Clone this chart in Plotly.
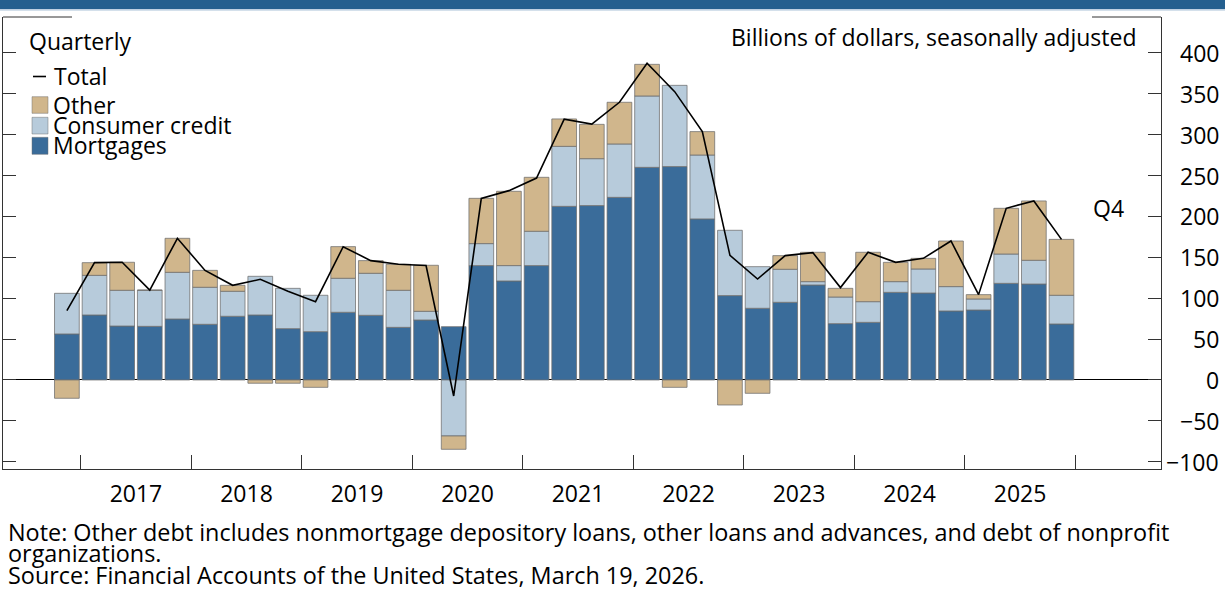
import plotly.graph_objects as go

# ---------------- data ----------------
years = [2016] + [y for y in range(2017, 2026) for _ in range(4)]
quarters = [4] + [q for _ in range(2017, 2026) for q in (1, 2, 3, 4)]

mortgages = [56.3, 79.5, 66.0, 65.6, 74.6, 68.1, 77.9, 79.5, 62.8, 59.1, 82.8, 79.1, 64.4,
             73.4, 65.2, 139.9, 121.1, 139.9, 212.4, 213.3, 223.4, 260.1, 261.0, 197.0,
             103.2, 87.7, 95.0, 116.2, 68.9, 70.5, 107.2, 106.4, 84.4, 85.6, 118.2, 117.4, 68.5]
consumer_credit = [49.7, 48.5, 43.7, 44.1, 57.1, 45.3, 30.6, 47.3, 49.3, 44.5, 41.6, 51.4, 45.3,
                   10.6, -68.5, 26.9, 18.8, 42.0, 73.4, 57.4, 65.3, 87.3, 99.4, 78.2,
                   79.9, 50.9, 40.4, 4.1, 32.6, 25.3, 13.1, 29.4, 29.8, 13.5, 35.9, 29.0, 35.1]
other = [-22.4, 15.5, 34.3, 0.3, 41.6, 20.7, 7.3, -4.0, -4.0, -9.0, 38.7, 15.5, 31.8,
         56.3, -16.3, 55.4, 90.9, 66.0, 33.5, 42.0, 51.0, 38.7, -9.0, 28.6,
         -30.6, -16.3, 16.7, 35.9, 10.6, 60.4, 23.6, 13.0, 55.8, 5.3, 55.9, 72.6, 68.4]
total = [84.8, 143.5, 144.0, 110.0, 173.3, 134.0, 115.8, 123.1, 108.5, 95.8, 163.0, 146.0, 141.5,
         140.0, -19.6, 222.0, 231.6, 247.0, 319.0, 313.0, 339.7, 387.4, 352.7, 303.8,
         152.5, 123.5, 152.1, 155.8, 113.0, 156.2, 143.9, 148.8, 170.0, 104.4, 210.0, 219.0, 172.0]

year_labels = [str(y) for y in range(2017, 2026)]
y_ticks = [-100, -50, 0, 50, 100, 150, 200, 250, 300, 350, 400]

series_names = ["Mortgages", "Consumer credit", "Other"]
series_colors = ["#3a6c9a", "#b7cbdb", "#d0b68c"]

# ---------------- figure ----------------
x = [y + (q - 0.5) / 4 for y, q in zip(years, quarters)]

FONT = "Open Sans"
FS = 23
W, H = 1225, 595
L, R, T, B = 3, 3, 17, 126
PW, PH = W - L - R, H - T - B
YR = [-108.9, 444.0]


def px_x(p):
    return (p - L) / PW


def px_y(p):
    return (H - B - p) / PH


fig = go.Figure()
for name, vals, col in zip(series_names, [mortgages, consumer_credit, other], series_colors):
    fig.add_trace(go.Bar(x=x, y=vals, name=name, marker_color=col,
                         marker_line=dict(color="rgba(110,110,110,0.75)", width=1),
                         showlegend=False))
fig.add_trace(go.Scatter(x=x, y=total, mode="lines", name="Total",
                         line=dict(color="black", width=1.6), showlegend=False))

axis_col = "#333333"
xdom_end = px_x(1161)

fig.update_layout(
    width=W, height=H,
    margin=dict(l=L, r=R, t=T, b=B),
    paper_bgcolor="white", plot_bgcolor="white",
    barmode="relative", bargap=0.105,
    font=dict(family=FONT, size=FS, color="black"),
    xaxis=dict(domain=[0, xdom_end], range=[2016.2968, 2026.7756],
               tickmode="array", tickvals=[int(y) + 0.5 for y in year_labels], ticktext=year_labels,
               ticks="", showgrid=False, zeroline=False,
               showline=True, linecolor=axis_col, linewidth=1,
               tickfont=dict(size=FS), ticklabelstandoff=4,
               minor=dict(tickvals=list(range(2017, 2027)), ticks="inside", ticklen=14,
                          tickcolor=axis_col, tickwidth=1, showgrid=False)),
    yaxis=dict(range=YR, side="right", tickmode="array", tickvals=y_ticks,
               ticks="inside", ticklen=13, tickcolor=axis_col, showticklabels=False,
               showline=True, linecolor=axis_col, linewidth=1, mirror="ticks",
               showgrid=False, zeroline=True, zerolinecolor="black", zerolinewidth=1),
)

shapes = []
# top band
shapes.append(dict(type="rect", xref="paper", yref="paper", x0=px_x(0), x1=px_x(W),
                   y0=px_y(9), y1=px_y(-2), fillcolor="#245f8f", line=dict(width=0), layer="above"))
shapes.append(dict(type="line", xref="paper", yref="paper", x0=px_x(0), x1=px_x(W),
                   y0=px_y(9.8), y1=px_y(9.8), line=dict(color="#a9c1d8", width=1.2)))
# partial top frame
for a, b in [(3, 72), (1092, 1161)]:
    shapes.append(dict(type="line", xref="paper", yref="paper", x0=px_x(a), x1=px_x(b),
                       y0=1, y1=1, line=dict(color=axis_col, width=1)))
# legend: total dash
shapes.append(dict(type="line", xref="paper", yref="paper", x0=px_x(33), x1=px_x(46),
                   y0=px_y(76.5), y1=px_y(76.5), line=dict(color="black", width=1.6)))
# legend swatches (top to bottom: Other, Consumer credit, Mortgages)
leg_rows = [("Other", series_colors[2], 96.7, 113.3),
            ("Consumer credit", series_colors[1], 117.3, 134.0),
            ("Mortgages", series_colors[0], 137.3, 154.3)]
for name, col, t0, t1 in leg_rows:
    shapes.append(dict(type="rect", xref="paper", yref="paper", x0=px_x(32), x1=px_x(48),
                       y0=px_y(t1), y1=px_y(t0), fillcolor=col,
                       line=dict(color="rgba(110,110,110,0.6)", width=0.8)))
fig.update_layout(shapes=shapes)

ann = []


def text(s, xp, yp, xanchor="left", size=FS):
    ann.append(dict(text=s, xref="paper", yref="paper", x=px_x(xp), y=px_y(yp),
                    xanchor=xanchor, yanchor="middle", showarrow=False,
                    font=dict(family=FONT, size=size, color="black")))


text("Quarterly", 27, 41)
text("Billions of dollars, seasonally adjusted", 1138, 37, xanchor="right")
text("Total", 52, 76)
for name, col, t0, t1 in leg_rows:
    text(name, 51, (t0 + t1) / 2 - 0.5)
text("Q4", 1108, 208, xanchor="center")
text("Note: Other debt includes nonmortgage depository loans, other loans and advances, and debt of nonprofit", 6, 532, size=23.4)
text("organizations.", 6, 553, size=23.4)
text("Source: Financial Accounts of the United States, March 19, 2026.", 6, 575, size=23.4)

# right-hand y tick labels (right-aligned)
for v in y_ticks:
    lab = str(v).replace("-", "\u2212")
    ann.append(dict(text=lab, xref="paper", yref="y", x=px_x(1221), y=v,
                    xanchor="right", yanchor="middle", showarrow=False,
                    font=dict(family=FONT, size=FS, color="black")))
fig.update_layout(annotations=ann)

fig.write_html("out.html", config={"displayModeBar": False},
               post_script="document.body.style.margin='0';document.body.style.overflow='hidden';")
